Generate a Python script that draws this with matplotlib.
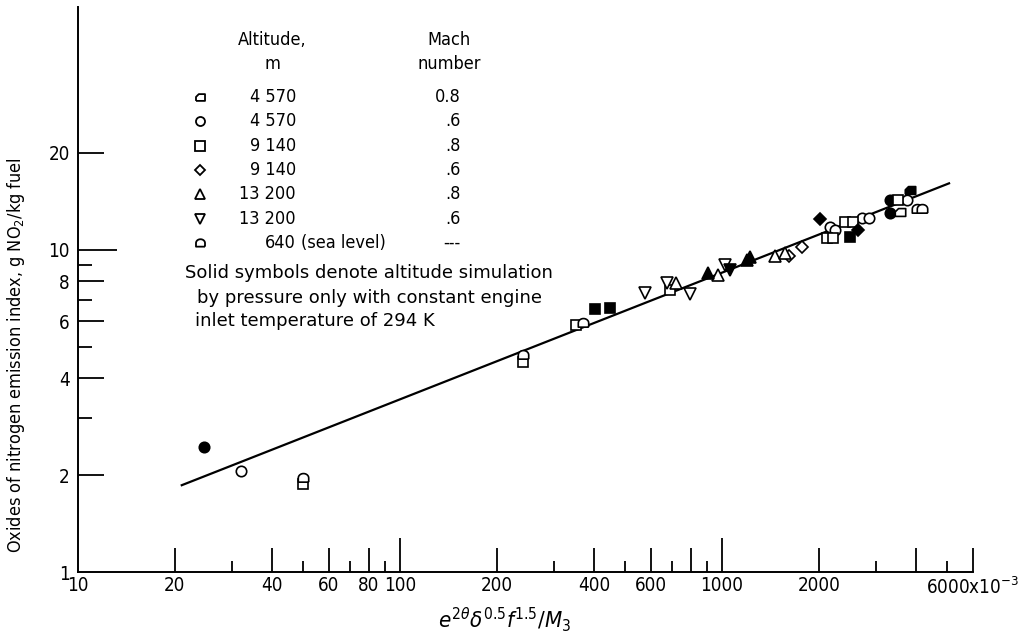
import numpy as np
import matplotlib
matplotlib.use('Agg')
import matplotlib.pyplot as plt
from matplotlib.ticker import FixedLocator, NullFormatter

plt.rcParams['font.family'] = ['DejaVu Sans']
plt.rcParams['font.stretch'] = 'condensed'
plt.rcParams['mathtext.fontset'] = 'dejavusans'

# data (x in units of 1e-3)
circ_open_x = [32.1, 2164, 2244, 2721, 2864, 3756]
circ_open_y = [2.06, 11.8, 11.5, 12.6, 12.6, 14.3]
circ_fill_x = [24.6, 3326, 3326]
circ_fill_y = [2.44, 14.3, 13.0]

sq_open_x = [50.0, 241, 352, 690, 2118, 2213, 2410, 2553, 3522]
sq_open_y = [1.88, 4.49, 5.85, 7.51, 10.9, 10.9, 12.2, 12.2, 14.3]
sq_fill_x = [403, 449, 2500]
sq_fill_y = [6.56, 6.61, 11.0]

dia_open_x = [1614, 1771]
dia_open_y = [9.58, 10.2]
dia_fill_x = [2015, 2644]
dia_fill_y = [12.5, 11.5]

tri_up_open_x = [720, 972, 1462, 1570]
tri_up_open_y = [7.90, 8.36, 9.58, 9.79]
tri_up_fill_x = [905, 1196, 1222]
tri_up_fill_y = [8.48, 9.31, 9.51]

tri_dn_open_x = [577, 675, 796, 1021]
tri_dn_open_y = [7.35, 7.90, 7.30, 8.98]
tri_dn_fill_x = [1059]
tri_dn_fill_y = [8.67]

sea_x = [50.0, 241, 370, 4033, 4179]
sea_y = [1.96, 4.72, 5.93, 13.4, 13.4]

flag_open_x = [3571]
flag_open_y = [13.1]
flag_fill_x = [3836]
flag_fill_y = [15.4]

fit_x = [21, 5070]
fit_y = [1.86, 16.1]

legend_alt = ['4 570', '4 570', '9 140', '9 140', '13 200', '13 200', '640']
legend_mach = ['0.8', '.6', '.8', '.6', '.8', '.6', '---']

xtick_vals = [10, 20, 40, 60, 80, 100, 200, 400, 600, 800, 1000, 2000, 4000, 6000]
xtick_labels = ['10', '20', '40', '60', '80', '100', '200', '400', '600', '', '1000',
                '2000', '', '6000x10$^{-3}$']
xminor_vals = [30, 50, 70, 90, 300, 500, 700, 900, 3000, 5000]
ytick_vals = [1, 2, 4, 6, 8, 10, 20]
ytick_labels = ['1', '2', '4', '6', '8', '10', '20']
yminor_vals = [3, 5, 7, 9]

# custom symbols
flag_marker = [(-0.8, -0.6), (0.8, -0.6), (0.8, 0.6), (-0.3, 0.6), (-0.8, 0.1), (-0.8, -0.6)]
t = np.linspace(0, np.pi, 14)
sea_marker = [(1, -0.7)] + list(zip(np.cos(t), 0.1 + 0.85 * np.sin(t))) + [(-1, -0.7), (1, -0.7)]

W, H = 1027, 635
fig = plt.figure(figsize=(W / 100, H / 100), dpi=100)
ax = fig.add_axes([78 / W, 1 - 572 / H, (972.6 - 78) / W, 565 / H])
ax.set_xscale('log')
ax.set_yscale('log')
ax.set_xlim(10, 6000)
ax.set_ylim(1, 56.8)

for s in ['top', 'right']:
    ax.spines[s].set_visible(False)
for s in ['left', 'bottom']:
    ax.spines[s].set_linewidth(1.4)

ax.plot(fit_x, fit_y, color='k', lw=1.6)

ms = 7.5
def pts(x, y, m, filled, size=ms):
    ax.plot(x, y, ls='none', marker=m, ms=size, mew=1.2, mec='k',
            mfc='k' if filled else 'white', clip_on=False)

pts(circ_open_x, circ_open_y, 'o', False)
pts(circ_fill_x, circ_fill_y, 'o', True)
pts(sq_open_x, sq_open_y, 's', False, 7)
pts(sq_fill_x, sq_fill_y, 's', True, 7)
pts(dia_open_x, dia_open_y, 'D', False, 6.5)
pts(dia_fill_x, dia_fill_y, 'D', True, 6.5)
pts(tri_up_open_x, tri_up_open_y, '^', False, 8.5)
pts(tri_up_fill_x, tri_up_fill_y, '^', True, 8.5)
pts(tri_dn_open_x, tri_dn_open_y, 'v', False, 8.5)
pts(tri_dn_fill_x, tri_dn_fill_y, 'v', True, 8.5)
pts(sea_x, sea_y, sea_marker, False)
pts(flag_open_x, flag_open_y, flag_marker, False)
pts(flag_fill_x, flag_fill_y, flag_marker, True)

# ticks
ax.xaxis.set_major_locator(FixedLocator(xtick_vals))
ax.set_xticklabels(xtick_labels)
ax.xaxis.set_minor_locator(FixedLocator(xminor_vals))
ax.xaxis.set_minor_formatter(NullFormatter())
ax.yaxis.set_major_locator(FixedLocator(ytick_vals))
ax.set_yticklabels(ytick_labels)
ax.yaxis.set_minor_locator(FixedLocator(yminor_vals))
ax.yaxis.set_minor_formatter(NullFormatter())

ax.tick_params(axis='x', which='major', direction='in', length=17, width=1.3,
               labelsize=13.5, pad=3)
ax.tick_params(axis='x', which='minor', direction='in', length=8, width=1.3)
ax.tick_params(axis='y', which='major', direction='in', length=19, width=1.3,
               labelsize=13.5, pad=6)
ax.tick_params(axis='y', which='minor', direction='in', length=10, width=1.3)

for val, tk in zip(xtick_vals, ax.xaxis.get_major_ticks()):
    if val == 10:
        tk.tick1line.set_markersize(0)
    elif val in (100, 1000):
        tk.tick1line.set_markersize(24.5)
for val, tk in zip(ytick_vals, ax.yaxis.get_major_ticks()):
    if val == 1:
        tk.tick1line.set_markersize(0)
    elif val == 10:
        tk.tick1line.set_markersize(28)

ax.set_xlabel(r'$e^{2\theta}\delta^{0.5}f^{1.5}/M_3$', fontsize=16)
ax.xaxis.set_label_coords((505 - 78) / 894.6, -0.058)
ax.set_ylabel('Oxides of nitrogen emission index, g NO$_2$/kg fuel', fontsize=13)
ax.yaxis.set_label_coords(-0.057, 0.384)

# legend block
def fp(x, y):
    return x / W, 1 - y / H

fs = 13
fig.text(*fp(272, 40), 'Altitude,', ha='center', va='center', fontsize=fs)
fig.text(*fp(272, 64), 'm', ha='center', va='center', fontsize=fs)
fig.text(*fp(449, 40), 'Mach', ha='center', va='center', fontsize=fs)
fig.text(*fp(449, 64), 'number', ha='center', va='center', fontsize=fs)

leg_markers = [flag_marker, 'o', 's', 'D', '^', 'v', sea_marker]
leg_sizes = [6.5, 6.5, 6.5, 5.5, 7, 7, 6.5]
for i in range(7):
    yy = 97 + i * 24.3
    fx, fy = fp(200, yy)
    fig.add_artist(plt.Line2D([fx], [fy], transform=fig.transFigure, ls='none',
                              marker=leg_markers[i], ms=leg_sizes[i], mew=1.3,
                              mec='k', mfc='white'))
    fig.text(*fp(296, yy), legend_alt[i], ha='right', va='center', fontsize=fs)
    fig.text(*fp(461, yy), legend_mach[i], ha='right', va='center', fontsize=fs)
fig.text(*fp(301, 97 + 6 * 24.3), '(sea level)', ha='left', va='center', fontsize=fs)

note_kw = dict(ha='left', va='center', fontsize=fs, fontstretch='normal')
fig.text(*fp(185, 273), 'Solid symbols denote altitude simulation', **note_kw)
fig.text(*fp(197, 298), 'by pressure only with constant engine', **note_kw)
fig.text(*fp(195, 321), 'inlet temperature of 294 K', **note_kw)

fig.savefig('out.png', dpi=100)
